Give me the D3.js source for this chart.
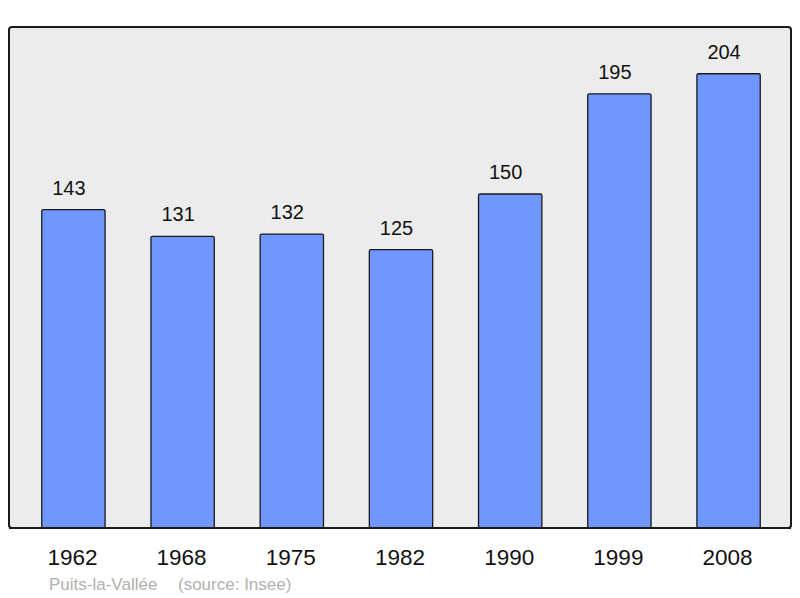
<!DOCTYPE html>
<html>
<head>
<meta charset="utf-8">
<script src="https://cdn.jsdelivr.net/npm/d3@7"></script>
<style>
  body { margin: 0; background: #fff; }
  text { font-family: "Liberation Sans", Arial, sans-serif; }
</style>
</head>
<body>
<script>
var years = ['1962', '1968', '1975', '1982', '1990', '1999', '2008'];
var population = [143, 131, 132, 125, 150, 195, 204];
var commune = 'Puits-la-Vallée';
var source = '(source: Insee)';

var screen = { width: 800, height: 598 };
var panel = { left: 9, top: 27, right: 791, bottom: 528 };

var svg = d3.select('body').append('svg')
            .attr('width', screen.width)
            .attr('height', screen.height);

// background panel
svg.append('rect')
   .attr('x', panel.left)
   .attr('y', panel.top)
   .attr('width', panel.right - panel.left)
   .attr('height', panel.bottom - panel.top)
   .attr('rx', 3)
   .attr('fill', '#ececec')
   .attr('stroke', '#1a1a1a')
   .attr('stroke-width', 2);

var xScale = d3.scaleBand()
               .domain(years)
               .range([panel.left, panel.right + 2])
               .paddingInner(0.42)
               .paddingOuter(0.3);

var yScale = d3.scaleLinear()
               .domain([0, 225])
               .range([panel.bottom, panel.top]);

var bars = svg.append('g').classed('bars', true);

bars.selectAll('rect')
    .data(population)
    .enter()
    .append('rect')
    .attr('x', function(d, i){ return xScale(years[i]); })
    .attr('y', function(d){ return yScale(d); })
    .attr('width', xScale.bandwidth())
    .attr('height', function(d){ return yScale(0) - yScale(d); })
    .attr('rx', 1.5)
    .attr('fill', '#7096ff')
    .attr('stroke', '#1a1a1a')
    .attr('stroke-width', 1.3);

// value labels sit a little left of the bar centre in the original
bars.selectAll('text')
    .data(population)
    .enter()
    .append('text')
    .attr('x', function(d, i){ return xScale(years[i]) + xScale.bandwidth() / 2 - 4.5; })
    .attr('y', function(d){ return yScale(d) - 15; })
    .attr('text-anchor', 'middle')
    .attr('font-size', 20)
    .attr('fill', '#111')
    .text(function(d){ return d; });

// redraw the bottom edge over the bars
svg.append('line')
   .attr('x1', panel.left)
   .attr('x2', panel.right)
   .attr('y1', panel.bottom)
   .attr('y2', panel.bottom)
   .attr('stroke', '#1a1a1a')
   .attr('stroke-width', 2);

svg.append('g').selectAll('text')
   .data(years)
   .enter()
   .append('text')
   .attr('x', function(d){ return xScale(d) + xScale.bandwidth() / 2 - 1; })
   .attr('y', 565)
   .attr('text-anchor', 'middle')
   .attr('font-size', 22.5)
   .attr('fill', '#111')
   .text(function(d){ return d; });

svg.append('text')
   .attr('x', 49)
   .attr('y', 590)
   .attr('font-size', 17)
   .attr('fill', '#b0b0b0')
   .text(commune);

svg.append('text')
   .attr('x', 178)
   .attr('y', 590)
   .attr('font-size', 17)
   .attr('fill', '#b0b0b0')
   .text(source);
</script>
</body>
</html>
